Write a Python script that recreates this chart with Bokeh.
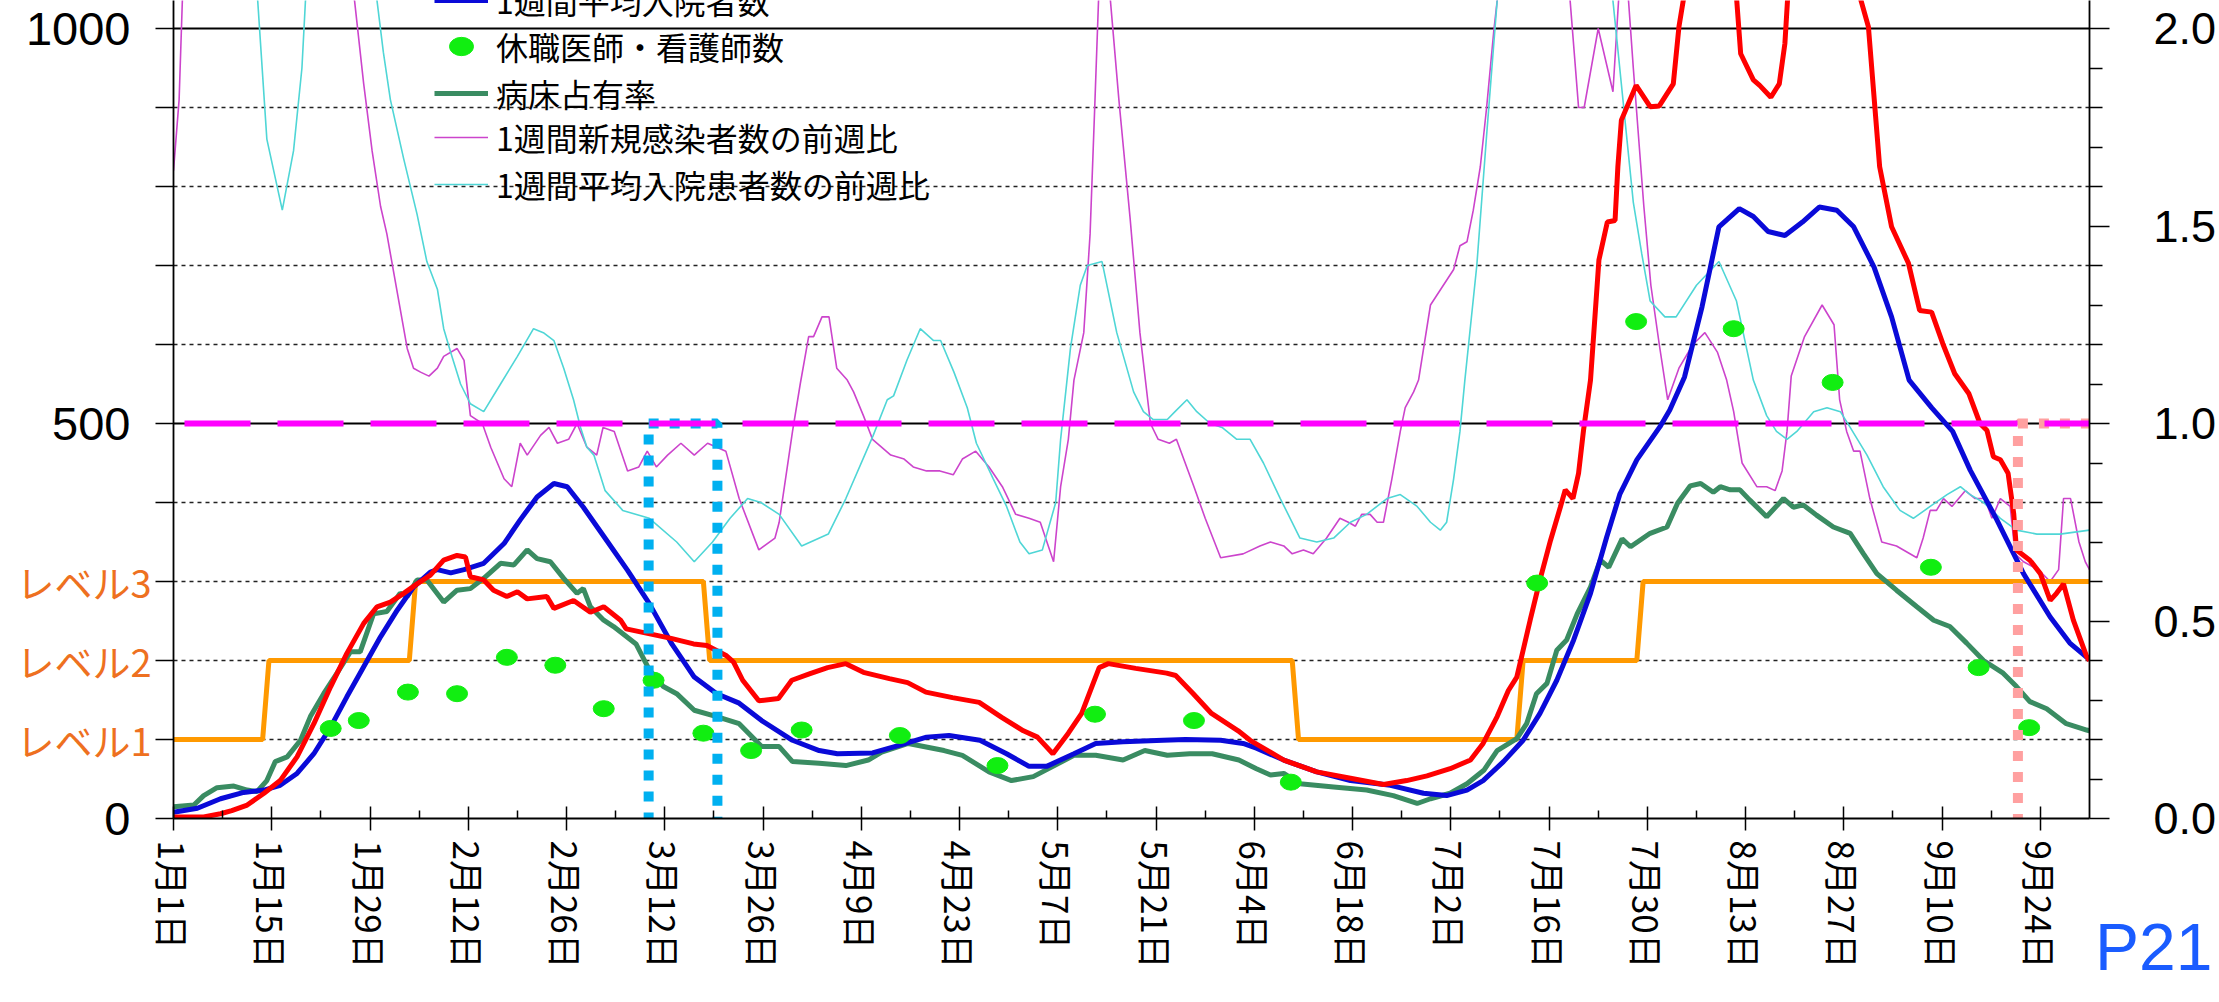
import math
from bokeh.plotting import figure
from bokeh.models import (Range1d, LinearAxis, FixedTicker, Span, Legend,
                          LegendItem, NumeralTickFormatter)
from bokeh.embed import file_html
from bokeh.resources import INLINE

# ---------------- data (day index: 0 = 1月1日) ----------------
tick_days = list(range(0, 267, 14))
tick_labels = ["1月1日", "1月15日", "1月29日", "2月12日", "2月26日", "3月12日", "3月26日",
               "4月9日", "4月23日", "5月7日", "5月21日", "6月4日", "6月18日", "7月2日",
               "7月16日", "7月30日", "8月13日", "8月27日", "9月10日", "9月24日"]
last_day = 273

# 1週間新規感染者数 (left axis)
red_day = [0, 4.3, 6.7, 8.3, 10.5, 12.9, 15.2, 17.6, 20, 22.4, 24.7, 27.1, 29, 30.9, 32.8, 34.7,
           36.6, 38.5, 40.4, 41.6, 42.3, 44.2, 45.6, 47.5, 49, 50.4, 53.2, 54.2, 57, 59.4, 61.3,
           63.7, 64.5, 67.7, 70.9, 74.1, 76, 78.8, 79.8, 81.1, 83.4, 86.2, 88.1, 90.6, 93.2, 95.8,
           98.3, 102, 104.6, 107.2, 111, 114.8, 118, 121.1, 123.1, 125.3, 127.5, 129.4, 131.9,
           133.2, 137.1, 141.5, 142.8, 145.3, 147.9, 151.7, 153.4, 158.2, 162.9, 167.7, 172.4,
           175.7, 178.6, 181.9, 184.8, 186.6, 188.6, 190.2, 191.4, 192.3, 193.3, 194.7, 196.2,
           197.6, 198.3, 199.4, 200.2, 200.9, 201.9, 203.1, 204.3, 205.4, 205.8, 206.3, 208.4,
           210.4, 211.7, 213.7, 214.5, 215.2, 217, 219, 221, 222.7, 223.3, 225.1, 226, 227.6,
           228.8, 229.6, 230, 232, 235, 238, 240.3, 241.5, 243.1, 244.8, 247.2, 248.8, 250.5,
           252.1, 253.8, 255.8, 257.4, 258.4, 259.3, 260.3, 261.4, 262.2, 262.6, 264.5, 266,
           267.4, 268.3, 269.3, 270.7, 272.6, 273]
red_val = [2, 2, 6, 10, 17, 32, 48, 78, 120, 167, 209, 247, 268, 274, 285, 297,
           308, 327, 333, 331, 306, 302, 289, 281, 287, 278, 281, 266, 276, 261, 268,
           251, 240, 234, 228, 221, 219, 206, 198, 175, 149, 152, 175, 183, 191, 196,
           185, 177, 172, 160, 153, 147, 128, 111, 103, 82, 108, 133, 191,
           196, 190, 184, 181, 158, 133, 111, 99, 74, 59, 51, 43,
           48, 54, 63, 74, 95, 129, 162, 179, 213, 251, 302, 352,
           394, 416, 405, 437, 491, 555, 707, 755, 757, 825, 884, 928,
           901, 902, 930, 1002, 1040, 1150, 1190, 1150, 1040, 968, 935, 928, 913,
           930, 981, 1040, 1150, 1200, 1150, 1040, 1002, 825, 749, 703, 643, 641,
           601, 563, 538, 500, 491, 458, 454, 437, 386, 340, 327, 310,
           276, 285, 297, 251, 205, 200]

# 1週間平均入院者数 (left axis)
blue_day = [0, 3.4, 6.7, 10, 12.9, 15.2, 17.6, 20, 22.4, 24.7, 27.1, 29.5, 31.9, 34.2, 36.6,
            37.6, 39.5, 41.4, 44.2, 47.1, 49.4, 51.8, 54.2, 56.1, 58.4, 61.4, 64.7, 67.8, 71,
            74.2, 77.4, 80.6, 83.8, 88.2, 92, 94.6, 99.6, 103.5, 107.3, 110.5, 114.9, 118.7,
            121.9, 124.4, 128.3, 131.4, 135.3, 141, 144.2, 149.2, 152.4, 154.3, 158.2, 162.9,
            167.7, 173.4, 178.1, 181.4, 184.3, 186.6, 189.5, 192.3, 194.7, 197.1, 199.5, 201.9,
            204.2, 206.1, 208.5, 211.8, 213.2, 215.3, 217.8, 220.2, 223.1, 225.1, 227.2, 229.6,
            232.1, 234.5, 237, 239.4, 242.3, 244.8, 247.3, 250.5, 253.5, 256, 259.8, 263.6,
            267.4, 270.2, 273]
blue_val = [8, 13, 25, 33, 36, 42, 57, 82, 116, 154, 192, 230, 264, 293, 312,
            315, 311, 315, 323, 348, 378, 407, 424, 420, 394, 356, 314, 272, 221,
            179, 158, 146, 124, 99, 86, 82, 83, 93, 103, 105, 99, 82,
            66, 66, 82, 95, 97, 99, 100, 99, 95, 89, 74, 59,
            48, 42, 32, 29, 36, 48, 72, 99, 133, 175, 226, 285,
            356, 411, 454, 496, 517, 559, 648, 749, 772, 762, 743, 738,
            755, 774, 770, 749, 698, 635, 555, 520, 490, 441, 378, 310,
            255, 222, 201]

# 病床占有率 (left axis scale)
green_day = [0, 2.9, 4.3, 6.2, 8.6, 10.5, 11.9, 13.3, 14.5, 16.2, 18.1, 19.5, 21.4, 23.3, 25.2,
             26.6, 28.5, 30.4, 32.3, 33.3, 34.7, 36.1, 38.5, 40.4, 42.3, 44.2, 46.6, 48.5, 50.4,
             51.8, 53.7, 55.6, 57.5, 58.4, 59.4, 61.3, 62.7, 65.9, 67.8, 69.8, 71.7, 74.2, 77.4,
             80.6, 83.8, 86.3, 88.2, 92, 95.8, 99, 100.9, 104.7, 109.8, 112.4, 116.2, 119.4,
             122.5, 125.1, 128.3, 131.4, 135.3, 138.4, 141.6, 144.8, 148, 151.8, 154.3, 156.3,
             158.2, 160.5, 165.3, 170, 173.8, 177.2, 179.1, 181.9, 184.3, 186.7, 188.6, 191.4,
             192.8, 194.2, 195.7, 197.1, 198.5, 200, 201.9, 203.3, 204.5, 206.4, 207.6, 210.4,
             212.8, 214.3, 216.1, 217.6, 219.4, 220.4, 221.8, 223.2, 224.6, 227, 229.4, 230.8,
             232.2, 234.1, 236.5, 238.9, 240.8, 242.7, 245.5, 248.4, 250.8, 253.1, 255.5, 257.9,
             260.7, 262.6, 264.5, 266.9, 269.7, 272.6, 273]
green_val = [15, 17, 29, 39, 41, 36, 34, 48, 72, 78, 99, 129, 158, 184, 211,
             211, 259, 262, 285, 281, 302, 302, 274, 289, 291, 304, 323, 321, 340,
             329, 325, 304, 285, 291, 268, 251, 243, 221, 188, 167, 158, 137, 129,
             120, 91, 91, 72, 70, 67, 74, 84, 95, 86, 80, 59, 48,
             53, 65, 80, 80, 74, 86, 80, 82, 82, 74, 63, 55,
             57, 44, 40, 36, 29, 19, 25, 32, 44, 61, 86, 101,
             120, 158, 171, 213, 226, 259, 293, 327, 318, 354, 344, 361,
             369, 399, 421, 424, 413, 420, 416, 416, 403, 382, 405, 394,
             397, 384, 369, 361, 335, 310, 289, 268, 251, 243, 222, 200,
             184, 167, 148, 139, 120, 112, 111]

# 休職医師・看護師数 (left axis scale)
dot_day = [22.4, 26.4, 33.4, 40.4, 47.5, 54.4, 61.3, 68.4, 75.5, 82.3, 89.5, 103.5, 117.4,
           131.3, 145.4, 159.2, 194.3, 208.4, 222.3, 236.4, 250.4, 257.2, 264.4]
dot_val = [114, 124, 160, 158, 204, 194, 139, 175, 108, 86, 112, 105, 67,
           132, 124, 46, 298, 629, 620, 552, 318, 191, 115]

# 1週間新規感染者数の前週比 (right axis)
mag_day = [0, 0.8, 1.5, 5, 10, 15, 20, 24, 25.8, 27.1, 28.3, 29.5, 30.4, 31.4, 32.3, 33.3,
           34.2, 35.2, 36.4, 37.6, 38.5, 40.4, 41.4, 42.3, 44, 45.2, 47.1, 48.2, 49.4, 50.4,
           52.3, 53.5, 54.7, 56.3, 57.5, 58.9, 60.3, 61.2, 62.8, 64.7, 66.3, 67.5, 68.8, 70.4,
           72.3, 74.2, 76.1, 78.7, 80.6, 83.4, 85.7, 86.3, 88.2, 89.3, 90.5, 91.2, 92.4, 93.4,
           94.5, 96, 96.9, 98.3, 99.6, 102.2, 104.1, 105.4, 107.3, 109.2, 111.1, 112.4, 114.3,
           116.2, 118.1, 120, 121.9, 123.5, 125.4, 126.4, 127.5, 128.3, 129.7, 130.6, 131.3,
           131.8, 132.6, 133.5, 134.7, 136.3, 137.7, 139.2, 140.3, 141.9, 142.9, 145.4, 147,
           149.2, 152.4, 154.8, 156.3, 158.2, 159.4, 161, 162.4, 164.3, 166.2, 167.4, 168.4,
           169.3, 170.5, 171.5, 172.4, 173.6, 174.8, 175.5, 176.7, 177.4, 179.1, 182.4, 183.3,
           184.3, 185.2, 186.2, 187.1, 188.1, 188.6, 191, 195, 198, 199, 200.2, 201, 203,
           205.1, 206, 207, 208, 209.5, 210.5, 211.7, 212.9, 214.5, 216.5, 218.2, 220, 221.3,
           222.3, 223.5, 225.6, 227, 228.2, 229.2, 229.9, 230.5, 232.4, 234.9, 236.6, 237.4,
           238.4, 239.4, 240.3, 241.7, 243.4, 245.5, 248.4, 249.3, 250.3, 251.2, 252.2, 253.4,
           255.3, 256.7, 258.1, 259.1, 260.3, 261.7, 262.4, 263.6, 265.7, 267.4, 268.6, 269.3,
           270.3, 271.5, 272.4, 273]
mag_val = [1.64, 1.82, 2.2, 2.8, 3.0, 2.8, 2.5, 2.2, 2.07, 1.86, 1.69, 1.55, 1.48, 1.38, 1.29, 1.19,
           1.14, 1.13, 1.12, 1.14, 1.17, 1.19, 1.16, 1.02, 1.00, 0.94, 0.86, 0.84, 0.95, 0.92,
           0.97, 0.99, 0.95, 0.96, 1.00, 0.94, 0.92, 0.99, 0.98, 0.88, 0.89, 0.93, 0.89, 0.92,
           0.95, 0.92, 0.95, 0.93, 0.81, 0.68, 0.71, 0.75, 0.98, 1.10, 1.22, 1.22, 1.27, 1.27,
           1.14, 1.11, 1.08, 1.02, 0.96, 0.92, 0.91, 0.89, 0.88, 0.88, 0.87, 0.91, 0.93,
           0.89, 0.84, 0.77, 0.76, 0.75, 0.65, 0.84, 0.96, 1.11, 1.23, 1.48, 1.82,
           2.07, 2.2, 2.07, 1.82, 1.52, 1.23, 1.00, 0.96, 0.95, 0.96, 0.84, 0.76,
           0.66, 0.67, 0.69, 0.70, 0.69, 0.67, 0.68, 0.67, 0.71, 0.76, 0.75, 0.74,
           0.77, 0.77, 0.75, 0.75, 0.86, 0.98, 1.04, 1.08, 1.11, 1.30, 1.39, 1.45,
           1.46, 1.54, 1.65, 1.80, 1.99, 2.07, 2.4, 2.5, 2.3, 2.07, 1.80, 1.80, 2.00,
           1.84, 2.1, 2.15, 1.9, 1.55, 1.35, 1.20, 1.06, 1.14, 1.20, 1.23, 1.18, 1.11,
           1.03, 0.90, 0.84, 0.84, 0.83, 0.88, 0.98, 1.12, 1.22, 1.30, 1.25, 1.06,
           0.98, 0.93, 0.93, 0.81, 0.70, 0.69, 0.66, 0.71, 0.78, 0.78, 0.81, 0.79,
           0.83, 0.81, 0.81, 0.76, 0.81, 0.79, 0.67, 0.65, 0.63, 0.60, 0.63, 0.81,
           0.81, 0.70, 0.65, 0.63]

# 1週間平均入院患者数の前週比 (right axis)
cyan_day = [0, 5, 10, 12, 13.3, 15.5, 17.1, 18.3, 18.8, 21, 25, 28, 29, 29.9, 30.9, 32.8, 34.7,
            36.1, 37.6, 38.5, 39.5, 40.9, 42.3, 44.2, 46.6, 49, 51.3, 52.7, 54.2, 55.6, 57, 58,
            58.9, 59.9, 61.5, 64, 67.8, 71.7, 74.2, 76.8, 79.3, 81.8, 83.7, 86.3, 89.5, 93.3,
            95.8, 99.7, 101.7, 102.6, 104.5, 106.4, 108.3, 109.3, 111.2, 113.1, 114.4, 116.8,
            118.7, 120.6, 121.9, 123.8, 125.7, 126.4, 127.8, 129.2, 130.2, 132.3, 134.4, 136.8,
            138.2, 139.6, 141.6, 142.7, 144.4, 145.8, 147.7, 149.4, 151.5, 153.4, 155.3, 157.7,
            160.5, 162.9, 165.3, 167.7, 170, 172.9, 174.8, 177.2, 179.1, 180.5, 181.4, 182.4,
            183.3, 184, 185.7, 187.1, 188.6, 192, 198, 203, 205.1, 208, 209.2, 210.4, 212.5,
            214.1, 217, 220.2, 222.7, 225.1, 227, 228.4, 229.9, 231.3, 233.7, 235.6, 237.5,
            238.9, 241.3, 243.6, 246, 247.9, 250.3, 252.7, 254.6, 256, 257.9, 260.3, 262.6,
            265.5, 268.8, 273]
cyan_val = [2.6, 2.8, 2.4, 2.07, 1.72, 1.54, 1.69, 1.90, 2.07, 2.5, 2.6, 2.3, 2.07, 1.94, 1.82, 1.67, 1.53,
            1.41, 1.34, 1.24, 1.18, 1.10, 1.05, 1.03, 1.10, 1.17, 1.24, 1.23, 1.21, 1.14, 1.06, 0.99,
            0.94, 0.92, 0.83, 0.78, 0.76, 0.70, 0.65, 0.70, 0.76, 0.81, 0.80, 0.77, 0.69, 0.72,
            0.81, 0.97, 1.06, 1.07, 1.16, 1.24, 1.21, 1.21, 1.13, 1.04, 0.95, 0.86,
            0.79, 0.70, 0.67, 0.68, 0.80, 0.96, 1.19, 1.35, 1.40, 1.41, 1.23, 1.08,
            1.03, 1.01, 1.01, 1.03, 1.06, 1.03, 1.00, 0.99, 0.96, 0.96, 0.90, 0.81,
            0.71, 0.70, 0.71, 0.75, 0.77, 0.81, 0.82, 0.79, 0.75, 0.73, 0.75, 0.86,
            0.98, 1.11, 1.40, 1.73, 2.07, 2.6, 2.8, 2.4, 2.07, 1.56, 1.43, 1.31, 1.27,
            1.27, 1.35, 1.41, 1.31, 1.11, 1.02, 0.98, 0.96, 0.98, 1.03, 1.04, 1.03,
            0.99, 0.92, 0.84, 0.78, 0.76, 0.79, 0.82, 0.84, 0.82, 0.80, 0.76, 0.73,
            0.72, 0.72, 0.73]

# 警戒レベル (day when the new level is reached, drawn on the left scale)
level_day = [0, 13.6, 34.5, 76.4, 160.3, 192.3, 209.4]
level_val = [100, 200, 300, 200, 100, 200, 300]
level_names = {100: "レベル1", 200: "レベル2", 300: "レベル3"}
left_labels = {0: "0", 500: "500", 1000: "1000"}

# highlighted periods (dotted boxes), top at ratio 1.0
box_start = [67.7, 262.8]
box_end = [77.5, 274.2]
box_top = [1.0, 1.0]
box_color = ["#00b0f0", "#ffa0a0"]

series_names = ["1週間平均入院者数", "休職医師・看護師数", "病床占有率",
                "1週間新規感染者数の前週比", "1週間平均入院患者数の前週比"]
page_tag = "P21"

# ---------------- figure ----------------
W, H = 2219, 1002
FL, FR, FB = 173, 2089, 818          # frame left / right / bottom (page px)
PXU = 0.79                           # px per left-axis unit
y_end = FB / PXU

p = figure(width=W, height=H, output_backend="svg", toolbar_location=None,
           x_range=Range1d(0, last_day), y_range=Range1d(0, y_end),
           min_border_left=FL, min_border_right=W - FR, min_border_top=0,
           min_border_bottom=H - FB)
p.extra_y_ranges = {"ratio": Range1d(0, y_end / 500)}
p.outline_line_color = None
p.background_fill_color = "white"
p.border_fill_color = "white"
p.xgrid.visible = False

# grid
p.ygrid.ticker = FixedTicker(ticks=[100, 200, 300, 400, 600, 700, 800, 900])
p.ygrid.grid_line_color = "#222222"
p.ygrid.grid_line_dash = "4 4"
p.ygrid.grid_line_width = 1.5
for v in (500, 1000):
    p.add_layout(Span(location=v, dimension="width", line_color="black", line_width=1.8,
                      level="underlay"))

# x axis
xa = p.xaxis[0]
xa.ticker = FixedTicker(ticks=tick_days, minor_ticks=list(range(7, last_day, 14)))
xa.major_label_overrides = {d: t for d, t in zip(tick_days, tick_labels)}
xa.major_label_orientation = -math.pi / 2
xa.major_label_text_font = "Noto Sans CJK JP"
xa.major_label_text_font_size = "35px"
xa.major_label_text_color = "black"
xa.major_label_standoff = 10
xa.major_tick_in = 12
xa.major_tick_out = 12
xa.minor_tick_in = 8
xa.minor_tick_out = 0
xa.axis_line_color = "black"
xa.axis_line_width = 1.8
xa.major_tick_line_color = "black"
xa.major_tick_line_width = 1.5
xa.minor_tick_line_color = "black"
xa.minor_tick_line_width = 1.5

# page number, as the label of a second (outer) bottom axis
pa = LinearAxis(ticker=FixedTicker(ticks=[last_day]),
                major_label_overrides={last_day: "\u00a0" * 7 + page_tag})
pa.major_label_text_font = "Liberation Sans"
pa.major_label_text_font_size = "66px"
pa.major_label_text_color = "#1a5cff"
pa.major_label_standoff = -62
pa.major_tick_in = 0
pa.major_tick_out = 0
pa.minor_tick_in = 0
pa.minor_tick_out = 0
pa.axis_line_color = None
pa.major_tick_line_color = None
pa.minor_tick_line_color = None
p.add_layout(pa, "below")

# left axis (inner): ticks + alert-level labels
ya = p.yaxis[0]
ya.ticker = FixedTicker(ticks=list(range(0, 1001, 100)))
ya.major_label_overrides = {t: level_names.get(t, "") for t in range(0, 1001, 100)}
ya.major_label_text_font = "Noto Sans CJK JP"
ya.major_label_text_font_size = "38px"
ya.major_label_text_color = "#ee7020"
ya.major_label_standoff = 4
ya.major_tick_in = 0
ya.major_tick_out = 18
ya.minor_tick_line_color = None
ya.axis_line_color = "black"
ya.axis_line_width = 1.8
ya.major_tick_line_color = "black"
ya.major_tick_line_width = 1.5

# left axis (outer): numbers 0 / 500 / 1000, pulled back next to the ticks
la = LinearAxis(ticker=FixedTicker(ticks=list(left_labels)),
                major_label_overrides=left_labels)
la.major_label_text_font = "Liberation Sans"
la.major_label_text_font_size = "47px"
la.major_label_text_color = "black"
la.major_label_standoff = -117
la.major_tick_in = 0
la.major_tick_out = 0
la.minor_tick_in = 0
la.minor_tick_out = 0
la.axis_line_color = None
la.major_tick_line_color = None
la.minor_tick_line_color = None
p.add_layout(la, "left")

# right axis
ra = LinearAxis(y_range_name="ratio",
                ticker=FixedTicker(ticks=[0, 0.5, 1.0, 1.5, 2.0],
                                   minor_ticks=[i / 10 for i in range(1, 21) if i % 5]),
                formatter=NumeralTickFormatter(format="0.0"))
ra.major_label_text_font = "Liberation Sans"
ra.major_label_text_font_size = "45px"
ra.major_label_text_color = "black"
ra.major_label_standoff = 44
ra.major_tick_in = 0
ra.major_tick_out = 20
ra.minor_tick_in = 0
ra.minor_tick_out = 13
ra.axis_line_color = "black"
ra.axis_line_width = 1.8
ra.major_tick_line_color = "black"
ra.major_tick_line_width = 1.5
ra.minor_tick_line_color = "black"
ra.minor_tick_line_width = 1.5
p.add_layout(ra, "right")

# thin ratio lines
r_mag = p.line(mag_day, mag_val, y_range_name="ratio", line_color="#cc44cc", line_width=1.6)
r_cyan = p.line(cyan_day, cyan_val, y_range_name="ratio", line_color="#4fd6d6", line_width=1.6)
p.add_layout(Span(location=1.0, dimension="width", y_range_name="ratio", line_color="#ff00ff",
                  line_width=6, line_dash="66 27", line_dash_offset=82, level="glyph"))

# level step line
lx, ly = [level_day[0]], [level_val[0]]
for i in range(1, len(level_day)):
    lx += [level_day[i] - 0.9, level_day[i]]
    ly += [level_val[i - 1], level_val[i]]
lx.append(last_day)
ly.append(level_val[-1])
p.line(lx, ly, line_color="#ff9900", line_width=5)

r_green = p.line(green_day, green_val, line_color="#3a8c62", line_width=5)
r_blue = p.line(blue_day, blue_val, line_color="#0a0ad8", line_width=5)
r_red = p.line(red_day, red_val, line_color="#ff0000", line_width=5)
r_dots = p.ellipse(dot_day, dot_val, width=21, height=16, width_units="screen",
                   height_units="screen", fill_color="#11ee11", line_color="#11ee11")

# highlighted periods
p.quad(left=box_start, right=box_end, top=box_top, bottom=[-0.022] * len(box_top),
       y_range_name="ratio", fill_alpha=0, line_color=box_color, line_width=10,
       line_dash="10 11")

# legend: one row per legend so the row pitch matches the original
row_centers = [0, 46.7, 93.4, 137.3, 184]       # page px
for name, rend, cy in zip(series_names, [r_blue, r_dots, r_green, r_mag, r_cyan], row_centers):
    lg = Legend(items=[LegendItem(label=name, renderers=[rend])],
                location=(261, FB - cy - 22.5), background_fill_alpha=0, border_line_alpha=0,
                padding=0, margin=0, spacing=0, glyph_width=54, glyph_height=30,
                label_height=30, label_standoff=8, label_text_color="black",
                label_text_font="Noto Sans CJK JP", label_text_font_size="32px")
    p.add_layout(lg)

open("out.html", "w").write(file_html(p, INLINE))
